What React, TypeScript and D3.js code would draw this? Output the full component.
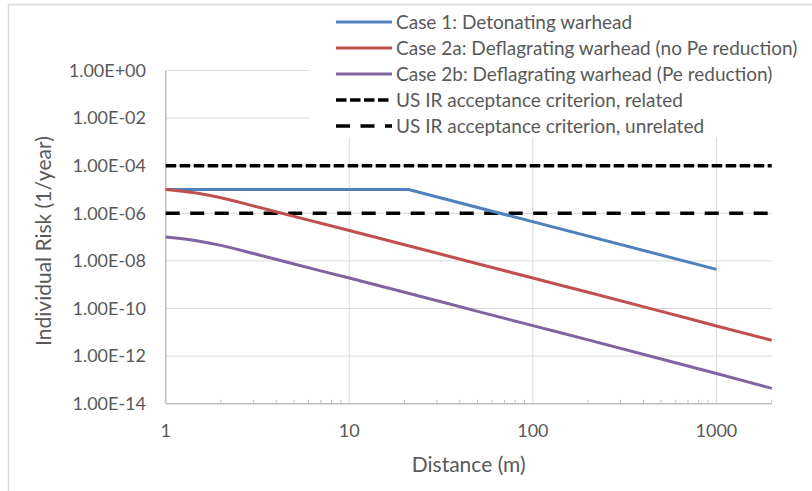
import React from "react";
import * as d3 from "d3";

// Distances (m) at which the deflagration curves are evaluated
const distances = [1, 1.5, 2, 3, 5, 10, 20, 50, 100, 200, 500, 1000, 2000];

// Case 1: detonating warhead (flat, then falls off with distance)
const case1Distances = [1, 21, 1000];
const case1Risk = [1e-5, 1e-5, 4.4e-9];

// Case 2a: deflagrating warhead, no Pe reduction
const case2aRisk = [1e-5, 6.9e-6, 4.5e-6, 2.05e-6, 7.4e-7, 1.9e-7, 4.8e-8, 7.6e-9, 1.9e-9, 4.8e-10, 7.6e-11, 1.85e-11, 4.6e-12];

// Case 2b: deflagrating warhead, with Pe reduction
const case2bRisk = [1e-7, 6.9e-8, 4.5e-8, 2.05e-8, 7.4e-9, 1.9e-9, 4.8e-10, 7.6e-11, 1.9e-11, 4.8e-12, 7.6e-13, 1.85e-13, 4.4e-14];

// US individual-risk acceptance criteria
const criterionDistances = [1, 2000];
const criterionRelated = 1e-4;
const criterionUnrelated = 1e-6;

const yTickValues = [1e0, 1e-2, 1e-4, 1e-6, 1e-8, 1e-10, 1e-12, 1e-14];
const xTickValues = [1, 10, 100, 1000];

const legendLabels = [
  "Case 1: Detonating warhead",
  "Case 2a: Deflagrating warhead (no Pe reduction)",
  "Case 2b: Deflagrating warhead (Pe reduction)",
  "US IR acceptance criterion, related",
  "US IR acceptance criterion, unrelated",
];

const W = 812;
const H = 491;
const FONT = "Lato, 'Open Sans', sans-serif";
const TEXT = "#595959";

const BLUE = "#4F81BD";
const RED = "#C0504D";
const PURPLE = "#8064A2";

const DASH_RELATED = "10.5,3.5";
const DASH_UNRELATED = "14,10.5";

function fmtExp(v: number): string {
  const e = Math.round(Math.log10(v));
  const sign = e < 0 ? "-" : "+";
  const mag = String(Math.abs(e)).padStart(2, "0");
  return `1.00E${sign}${mag}`;
}

export default function App() {
  const left = 165.7;
  const right = 771.7;
  const top = 70.5;
  const bottom = 403.7;

  const x = d3.scaleLog().domain([1, 2000]).range([left, right]);
  const y = d3.scaleLog().domain([1e-14, 1]).range([bottom, top]);

  const smooth = d3
    .line<[number, number]>()
    .x((d) => x(d[0]))
    .y((d) => y(d[1]))
    .curve(d3.curveMonotoneX);
  const straight = d3
    .line<[number, number]>()
    .x((d) => x(d[0]))
    .y((d) => y(d[1]));

  const pts = (xs: number[], ys: number[]) => xs.map((v, i) => [v, ys[i]] as [number, number]);

  // minor ticks on the distance axis: 2..9 in each decade, plus the axis end
  const minorTicks: number[] = [];
  for (let dec = 1; dec <= 1000; dec *= 10) {
    for (let k = 2; k <= 9; k++) {
      const v = k * dec;
      if (v <= 2000) minorTicks.push(v);
    }
  }

  const legendX = 336;
  const legendLineW = 56;
  const legendRowY = [22, 48, 74, 100, 126];
  const legendStyles = [
    { stroke: BLUE, width: 3, dash: undefined as string | undefined },
    { stroke: RED, width: 3, dash: undefined },
    { stroke: PURPLE, width: 3, dash: undefined },
    { stroke: "#000", width: 3.5, dash: DASH_RELATED },
    { stroke: "#000", width: 3.5, dash: DASH_UNRELATED },
  ];

  return (
    <div style={{ position: "absolute", left: 0, top: 0, width: W, height: H, background: "#fff" }}>
      <svg width={W} height={H} style={{ display: "block" }}>
        <rect x={0} y={0} width={W} height={H} fill="#fff" />
        {/* chart frame */}
        <rect x={8.5} y={4.5} width={W + 50} height={H + 50} fill="none" stroke="#d9d9d9" strokeWidth={1.5} />

        {/* gridlines */}
        {yTickValues.slice(0, -1).map((v) => (
          <line key={"gy" + v} x1={left} x2={right} y1={y(v)} y2={y(v)} stroke="#d9d9d9" strokeWidth={1} />
        ))}
        {xTickValues.slice(1).map((v) => (
          <line key={"gx" + v} x1={x(v)} x2={x(v)} y1={top} y2={bottom} stroke="#d9d9d9" strokeWidth={1} />
        ))}

        {/* axes */}
        <line x1={left} x2={left} y1={top} y2={bottom} stroke="#bfbfbf" strokeWidth={1.5} />
        <line x1={left} x2={right} y1={bottom} y2={bottom} stroke="#bfbfbf" strokeWidth={1.5} />
        {minorTicks.map((v) => (
          <line key={"mt" + v} x1={x(v)} x2={x(v)} y1={bottom} y2={bottom - 4} stroke="#bfbfbf" strokeWidth={1} />
        ))}

        {/* tick labels */}
        {yTickValues.map((v) => (
          <text key={"yl" + v} x={146} y={y(v)} dy="0.35em" textAnchor="end" fontFamily={FONT} fontSize={18} fill={TEXT}>
            {fmtExp(v)}
          </text>
        ))}
        {xTickValues.map((v) => (
          <text key={"xl" + v} x={x(v)} y={437} textAnchor="middle" fontFamily={FONT} fontSize={18} fill={TEXT}>
            {String(v)}
          </text>
        ))}

        {/* axis titles */}
        <text x={(left + right) / 2} y={472} textAnchor="middle" fontFamily={FONT} fontSize={21} fill={TEXT}>
          Distance (m)
        </text>
        <text
          transform={`translate(51, ${(top + bottom) / 2 + 4}) rotate(-90)`}
          textAnchor="middle"
          fontFamily={FONT}
          fontSize={21}
          fill={TEXT}
        >
          Individual Risk (1/year)
        </text>

        {/* criteria */}
        <path
          d={straight(pts(criterionDistances, [criterionRelated, criterionRelated])) || ""}
          fill="none"
          stroke="#000"
          strokeWidth={3.5}
          strokeDasharray={DASH_RELATED}
        />
        <path
          d={straight(pts(criterionDistances, [criterionUnrelated, criterionUnrelated])) || ""}
          fill="none"
          stroke="#000"
          strokeWidth={3.5}
          strokeDasharray={DASH_UNRELATED}
        />

        {/* risk curves */}
        <path d={straight(pts(case1Distances, case1Risk)) || ""} fill="none" stroke={BLUE} strokeWidth={3} strokeLinejoin="round" />
        <path d={smooth(pts(distances, case2aRisk)) || ""} fill="none" stroke={RED} strokeWidth={3} />
        <path d={smooth(pts(distances, case2bRisk)) || ""} fill="none" stroke={PURPLE} strokeWidth={3} />

        {/* legend */}
        <rect x={310} y={9} width={498} height={128} fill="#fff" />
        {legendLabels.map((label, i) => (
          <g key={"lg" + i}>
            <line
              x1={legendX}
              x2={legendX + legendLineW}
              y1={legendRowY[i]}
              y2={legendRowY[i]}
              stroke={legendStyles[i].stroke}
              strokeWidth={legendStyles[i].width}
              strokeDasharray={legendStyles[i].dash}
            />
            <text x={legendX + legendLineW + 4} y={legendRowY[i]} dy="0.35em" fontFamily={FONT} fontSize={19} fill={TEXT}>
              {label}
            </text>
          </g>
        ))}
      </svg>
    </div>
  );
}
